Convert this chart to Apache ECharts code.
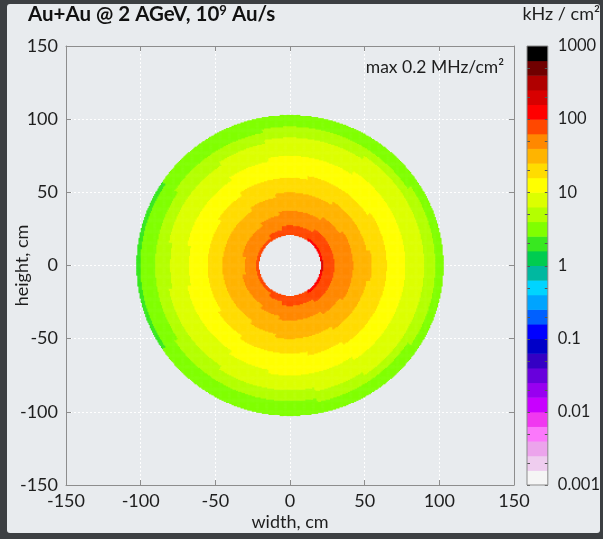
<!DOCTYPE html>
<html>
<head>
<meta charset="utf-8">
<script src="https://cdn.jsdelivr.net/npm/echarts@6/dist/echarts.min.js"></script>
<style>
  html, body { margin: 0; padding: 0; width: 603px; height: 539px; overflow: hidden; background: #3c3f42; }
  #panel { position: absolute; left: 7px; top: 4px; width: 593px; height: 529px; background: #e8ebee; border-radius: 3px; }
  #chart { position: absolute; left: 0; top: 0; width: 603px; height: 539px; }
</style>
</head>
<body>
<div id="panel"></div>
<div id="chart"></div>
<script>
// Hit rate (kHz/cm^2) per azimuthal direction, in 2.5 cm wide rings from r = 20 cm outwards.
const rateE   = [200, 90, 78, 68, 61, 55, 50, 46, 42, 39, 35, 31.5, 28.5, 26, 24, 21, 19, 17, 15.5, 14, 12.8, 11.7, 10.6, 9.8, 8.9, 8.1, 7.4, 6.7, 6.0, 5.2, 4.5, 3.9, 3.4];
const rateENE = [130, 88, 76, 66, 60, 54, 49, 45, 41, 38, 34, 30, 27, 24.5, 22, 20, 18, 16.5, 15, 13.7, 12.5, 11.5, 10.5, 9.6, 8.8, 8.0, 7.3, 6.6, 5.9, 5.1, 4.3, 3.8, 3.2];
const rateNE  = [105, 84, 73, 65, 58, 52, 47, 42, 38.5, 35, 31, 28, 25.5, 23.5, 21, 19, 17, 15.5, 14.3, 13.2, 12.2, 11.2, 10.3, 9.5, 8.7, 7.9, 7.2, 6.5, 5.8, 4.9, 3.9, 3.4, 3.0];
const rateNNE = [97, 80, 69, 61, 54, 48, 43, 38, 34, 30.5, 28, 25.5, 24, 21.5, 19.5, 17.8, 16.3, 15, 13.7, 12.5, 11.4, 10.4, 9.6, 8.8, 8.0, 7.3, 6.6, 6.0, 5.2, 4.4, 3.8, 3.3, 2.9];
const rateN   = [92, 77, 66, 60, 53, 47, 42, 38.5, 34.5, 31, 28, 25.5, 23.5, 21, 19, 17, 15.5, 14.2, 13, 12, 11, 10.2, 9.5, 8.7, 7.9, 7.2, 6.5, 5.9, 5.0, 4.3, 3.7, 3.2, 2.8];
const rateNNW = [86, 70, 59, 52, 46, 41, 38, 34, 30.5, 28, 25.5, 24, 21.5, 19.5, 17.8, 16.3, 15, 13.7, 12.5, 11.4, 10.4, 9.6, 8.7, 7.9, 7.2, 6.6, 5.9, 5.1, 4.4, 3.9, 3.4, 3.0, 2.7];
const rateNW  = [78, 60, 53, 47, 42, 38, 34, 30.5, 28, 25.5, 24, 21.5, 19.5, 17.8, 16.3, 15, 13.7, 12.5, 11.4, 10.4, 9.6, 8.7, 7.9, 7.2, 6.6, 6.0, 5.3, 4.7, 4.1, 3.8, 3.3, 2.9, 2.6];
const rateWNW = [68, 58, 51, 46, 41, 38, 34, 30.5, 28, 25.5, 23.5, 21, 18.8, 16.8, 15.5, 14.2, 13, 12, 11, 10.2, 9.5, 8.7, 7.9, 7.1, 6.4, 5.8, 5.0, 4.3, 3.8, 3.3, 2.9, 2.6, 2.4];
const rateW   = [65, 56, 49, 43, 38.5, 35, 32, 29, 27, 25.2, 23.5, 21, 18.8, 16.8, 15.3, 13.9, 12.7, 11.6, 10.5, 9.6, 8.7, 7.9, 7.1, 6.5, 6.0, 5.3, 4.7, 4.1, 3.8, 3.3, 2.9, 2.6, 2.3];
const rateWSW = [70, 59, 52, 46, 41, 38, 34.5, 31, 28, 25.5, 23.5, 21, 19, 17, 15.4, 14, 12.9, 11.9, 10.9, 10.1, 9.4, 8.6, 7.8, 7.1, 6.4, 5.8, 5.0, 4.3, 3.8, 3.3, 2.9, 2.6, 2.45];
const rateSW  = [76, 59, 52, 46.5, 41.5, 38, 34, 30.5, 28, 25.5, 24, 21.5, 19.5, 17.8, 16.3, 15, 13.7, 12.5, 11.4, 10.4, 9.6, 8.7, 7.9, 7.2, 6.6, 6.0, 5.3, 4.7, 4.1, 3.8, 3.3, 2.9, 2.6];
const rateSSW = [85, 69, 59, 52, 46, 41, 38, 34, 30.5, 28, 25.5, 24, 21.5, 19.5, 17.8, 16.3, 15, 13.7, 12.5, 11.4, 10.4, 9.6, 8.7, 7.9, 7.2, 6.6, 5.9, 5.1, 4.4, 3.9, 3.4, 3.0, 2.7];
const rateS   = [90, 76, 65, 60, 53, 47, 42, 38.5, 34.5, 31, 28, 25.5, 23.5, 21, 19, 17, 15.5, 14.2, 13, 12, 11, 10.2, 9.4, 8.4, 7.5, 6.7, 5.9, 5.1, 4.4, 3.9, 3.4, 3.0, 2.7];
const rateSSE = [95, 79, 68, 61, 54, 48, 43, 38, 34, 30.5, 28, 25.5, 24, 21.5, 19.5, 17.8, 16.3, 15, 13.7, 12.5, 11.4, 10.4, 9.6, 8.8, 8.0, 7.3, 6.6, 6.0, 5.2, 4.4, 3.8, 3.3, 2.9];
const rateSE  = [108, 85, 74, 65, 58, 52, 47, 42, 38.5, 35, 31, 28, 25.5, 24, 21.5, 19.5, 17.8, 16.3, 15, 13.7, 12.5, 11.4, 10.4, 9.6, 8.8, 8.0, 7.3, 6.6, 5.6, 4.7, 3.9, 3.4, 3.0];
const rateESE = [150, 90, 78, 68, 61, 55, 50, 45, 41, 38, 34, 30, 27, 24.5, 22, 20, 18, 16.5, 15.3, 14, 12.8, 11.7, 10.6, 9.8, 8.9, 8.1, 7.4, 6.7, 6.0, 5.2, 4.5, 3.9, 3.4];

// Directions, counter-clockwise from +x, in the same order as the rows.
const sectorAngles = [0, 22.5, 45, 67.5, 90, 112.5, 135, 157.5, 180, 202.5, 225, 247.5, 270, 292.5, 315, 337.5];
const sectorRates = [rateE, rateENE, rateNE, rateNNE, rateN, rateNNW, rateNW, rateWNW,
                     rateW, rateWSW, rateSW, rateSSW, rateS, rateSSE, rateSE, rateESE];

// Detector geometry (cm)
const HOLE_RADIUS = 20.8;
const OUTER_RADIUS = 102.6;
const RING_START = 20;
const RING_WIDTH = 2.5;
const CELL = 0.75;         // heat-map cell size, cm
const AXIS_MIN = -150, AXIS_MAX = 150;

// Colour scale: 5 bands per decade from 0.001 to 1000 kHz/cm^2
const bandColors = [
  '#f5f5f5', '#efcdef', '#eca4ec', '#fb78fb', '#f038f0',
  '#c800ff', '#9800f0', '#6800dc', '#3400c4', '#0000c8',
  '#0000ff', '#0060ff', '#00a4ff', '#00d4ff', '#00b8a0',
  '#00cc50', '#38e820', '#80ff00', '#b4ff00', '#dcff00',
  '#ffff00', '#ffdc00', '#ffb400', '#ff8800', '#ff4800',
  '#ff0000', '#d80000', '#b00000', '#700000', '#000000'
];
const colorbarLabels = ['0.001', '0.01', '0.1', '1', '10', '100', '1000'];
const colorbarTickMultipliers = [1, 2, 5];
const BANDS_PER_DECADE = 5, LOG_MIN = -3, LOG_MAX = 3;

const FONT = 'Lato, "Open Sans", sans-serif';
const TEXT = '#1e1e1e';
const AXIS_GRAY = '#8d8d8d';

// Cell grid
const nCells = Math.round((AXIS_MAX - AXIS_MIN) / CELL);
const cellCats = [];
for (let i = 0; i < nCells; i++) cellCats.push((AXIS_MIN + CELL * (i + 0.5)).toFixed(3));

const heatData = [];
for (let i = 0; i < nCells; i++) {
  const x = AXIS_MIN + CELL * (i + 0.5);
  for (let j = 0; j < nCells; j++) {
    const y = AXIS_MIN + CELL * (j + 0.5);
    const r = Math.hypot(x, y);
    if (r < HOLE_RADIUS || r > OUTER_RADIUS) continue;
    let phi = Math.atan2(y, x) * 180 / Math.PI;
    if (phi < 0) phi += 360;
    const s = Math.round(phi / sectorAngles[1]) % sectorAngles.length;
    let k = Math.floor((r - RING_START) / RING_WIDTH);
    const row = sectorRates[s];
    k = Math.max(0, Math.min(row.length - 1, k));
    heatData.push([i, j, row[k]]);
  }
}

// visualMap pieces and colour-bar bands
const pieces = [];
const barData = [];
for (let b = 0; b < bandColors.length; b++) {
  const lo = LOG_MIN + b / BANDS_PER_DECADE;
  const hi = LOG_MIN + (b + 1) / BANDS_PER_DECADE;
  const piece = { gte: Math.pow(10, lo), color: bandColors[b] };
  if (b < bandColors.length - 1) piece.lt = Math.pow(10, hi); else piece.lte = Math.pow(10, hi);
  pieces.push(piece);
  barData.push([lo, hi, b]);
}
// minor ticks of the colour bar at 1, 2, 5 x 10^n
const barTicks = [];
for (let d = LOG_MIN; d < LOG_MAX; d++) {
  colorbarTickMultipliers.forEach(m => barTicks.push([d + Math.log10(m)]));
}

const PLOT = { left: 66, top: 46, width: 448, height: 439 };
const CBAR = { left: 527, top: 46, width: 21, height: 439 };

const mainAxisCommon = {
  min: AXIS_MIN, max: AXIS_MAX, interval: 50,
  axisLine: { show: true, onZero: false, lineStyle: { color: AXIS_GRAY, width: 1 } },
  axisTick: { show: true, inside: true, length: 5, lineStyle: { color: AXIS_GRAY } },
  axisLabel: { show: true, color: TEXT, fontSize: 18, fontFamily: FONT },
  splitLine: { show: false }
};

const chart = echarts.init(document.getElementById('chart'), null, { renderer: 'canvas' });
chart.setOption({
  animation: false,
  backgroundColor: 'transparent',
  textStyle: { fontFamily: FONT },
  grid: [
    Object.assign({ containLabel: false }, PLOT),
    Object.assign({ containLabel: false }, PLOT),
    Object.assign({ containLabel: false }, CBAR)
  ],
  xAxis: [
    Object.assign({}, mainAxisCommon, {
      type: 'value', gridIndex: 0, position: 'bottom',
      axisLabel: Object.assign({}, mainAxisCommon.axisLabel, { margin: 7 }),
      splitLine: { show: true, lineStyle: { color: '#ffffff', width: 1, type: [2, 2] } },
      name: 'width, cm', nameLocation: 'middle', nameGap: 28, nameMoveOverlap: false,
      nameTextStyle: { color: TEXT, fontSize: 18, fontFamily: FONT }
    }),
    Object.assign({}, mainAxisCommon, {
      type: 'value', gridIndex: 0, position: 'top',
      axisLabel: { show: false }
    }),
    { type: 'category', gridIndex: 1, data: cellCats, show: false },
    { type: 'value', gridIndex: 2, min: 0, max: 1, show: false }
  ],
  yAxis: [
    Object.assign({}, mainAxisCommon, {
      type: 'value', gridIndex: 0, position: 'left',
      axisLabel: Object.assign({}, mainAxisCommon.axisLabel, { margin: 8 }),
      splitLine: { show: true, lineStyle: { color: '#ffffff', width: 1, type: [2, 2] } },
      name: 'height, cm', nameLocation: 'middle', nameGap: 35, nameRotate: 90, nameMoveOverlap: false,
      nameTextStyle: { color: TEXT, fontSize: 18, fontFamily: FONT }
    }),
    Object.assign({}, mainAxisCommon, {
      type: 'value', gridIndex: 0, position: 'right',
      axisLabel: { show: false }
    }),
    { type: 'category', gridIndex: 1, data: cellCats, show: false },
    {
      type: 'value', gridIndex: 2, min: LOG_MIN, max: LOG_MAX, interval: 1, position: 'right',
      axisLine: { show: false }, axisTick: { show: false }, splitLine: { show: false },
      axisLabel: {
        show: true, margin: 10, color: TEXT, fontSize: 16.5, fontFamily: FONT,
        formatter: v => colorbarLabels[Math.round(v) - LOG_MIN]
      }
    }
  ],
  visualMap: [{
    type: 'piecewise', show: false, seriesIndex: 0, dimension: 2,
    pieces: pieces
  }],
  series: [
    {
      type: 'heatmap', xAxisIndex: 2, yAxisIndex: 2,
      data: heatData, progressive: 0, silent: true,
      itemStyle: { borderWidth: 0 },
      emphasis: { disabled: true }
    },
    {
      type: 'custom', xAxisIndex: 3, yAxisIndex: 3, silent: true,
      data: barData,
      renderItem: (params, api) => {
        const p0 = api.coord([0, api.value(0)]);
        const p1 = api.coord([1, api.value(1)]);
        return {
          type: 'rect',
          shape: { x: p0[0], y: p1[1], width: p1[0] - p0[0], height: p0[1] - p1[1] + 0.5 },
          style: { fill: bandColors[api.value(2)] }
        };
      }
    },
    {
      type: 'custom', xAxisIndex: 3, yAxisIndex: 3, silent: true, z: 3,
      data: barTicks,
      renderItem: (params, api) => {
        const pl = api.coord([0, api.value(0)]);
        const pr = api.coord([1, api.value(0)]);
        const y = Math.round(pl[1]) + 0.5;
        return {
          type: 'group',
          children: [
            { type: 'line', shape: { x1: pl[0], y1: y, x2: pl[0] + 3, y2: y }, style: { stroke: '#555', lineWidth: 1 } },
            { type: 'line', shape: { x1: pr[0] - 3, y1: y, x2: pr[0], y2: y }, style: { stroke: '#555', lineWidth: 1 } }
          ]
        };
      }
    },
    {
      type: 'custom', xAxisIndex: 3, yAxisIndex: 3, silent: true, z: 4,
      data: [[LOG_MIN, LOG_MAX]],
      renderItem: (params, api) => {
        const p0 = api.coord([0, api.value(0)]);
        const p1 = api.coord([1, api.value(1)]);
        return {
          type: 'rect',
          shape: { x: p0[0], y: p1[1], width: p1[0] - p0[0], height: p0[1] - p1[1] },
          style: { fill: 'none', stroke: '#8a8a8a', lineWidth: 1 }
        };
      }
    }
  ],
  graphic: [
    {
      type: 'text', left: 28, top: 4, silent: true,
      style: {
        text: 'Au+Au @ 2 AGeV, 10{sup|9} Au/s',
        font: 'bold 20.5px ' + FONT, fill: '#111',
        rich: { sup: { fontSize: 13, fontWeight: 'bold', fontFamily: FONT, verticalAlign: 'top', padding: [0, 0, 7, 0] } }
      }
    },
    {
      type: 'text', right: 3, top: 5, silent: true,
      style: { text: 'kHz / cm²', font: '18px ' + FONT, fill: TEXT }
    },
    {
      type: 'text', right: 99, top: 58, silent: true,
      style: { text: 'max 0.2 MHz/cm²', font: '17.5px ' + FONT, fill: TEXT }
    }
  ]
});
</script>
</body>
</html>
